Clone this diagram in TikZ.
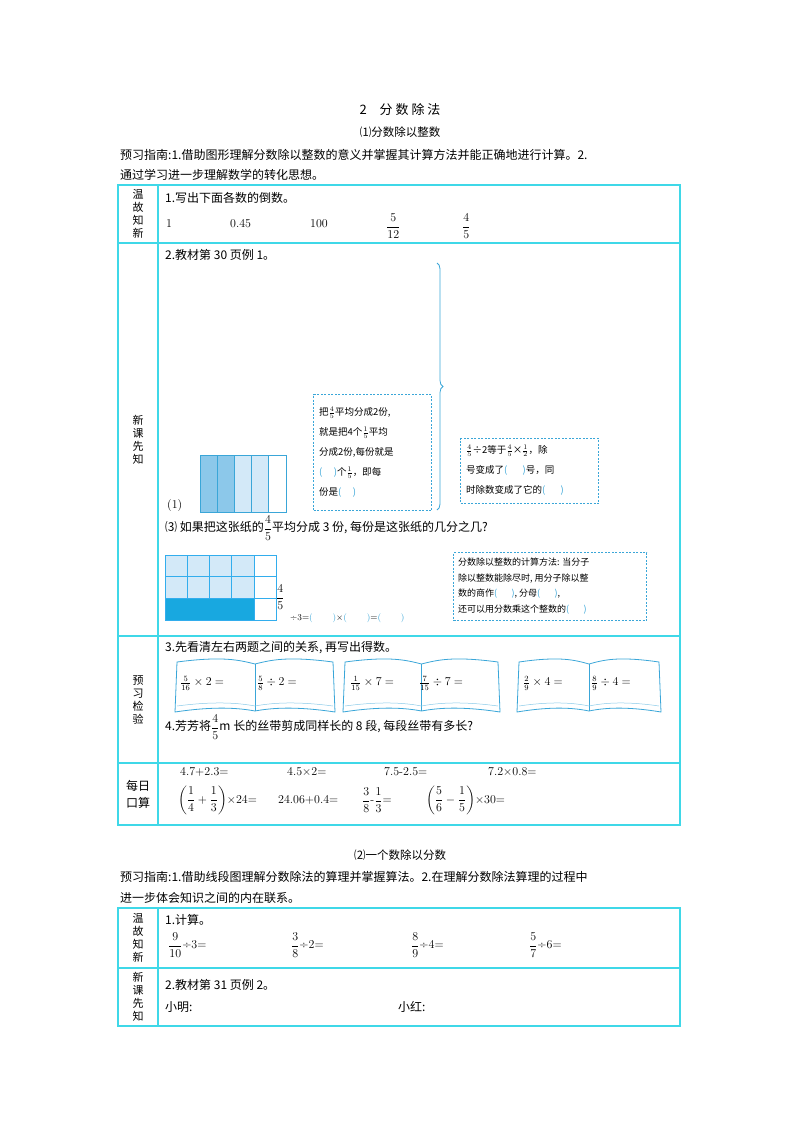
\documentclass[tikz,border=0pt]{standalone}
\usepackage{fontspec}
\usepackage{amsmath}
\newfontfamily\cjk{Noto Sans CJK SC}
\newcommand{\bp}[1][1.2em]{{\color{bblue}(\hspace*{#1})}}
\usetikzlibrary{decorations.pathreplacing}
\definecolor{tcyan}{HTML}{3FD8E8}
\definecolor{bblue}{HTML}{3AA6D8}
\definecolor{dblue}{HTML}{8CC8EA}
\definecolor{lblue}{HTML}{D3E9F8}
\definecolor{sblue}{HTML}{18A8E0}
\begin{document}
\begin{tikzpicture}[x=1pt,y=-1pt,
  txt/.style={anchor=west,inner sep=0pt,font=\fontsize{12}{14}\selectfont\cjk},
  num/.style={anchor=west,inner sep=0pt,font=\fontsize{12}{14}\selectfont},
  lab/.style={align=center,inner sep=0pt,font=\fontsize{11}{13}\selectfont\cjk},
  tline/.style={draw=tcyan,line width=1.2pt},
  dbox/.style={draw=bblue,dashed,line width=1pt,dash pattern=on 2pt off 1.5pt},
  small/.style={anchor=west,inner sep=0pt,align=left,font=\fontsize{9.5}{20}\selectfont\cjk}]
\useasboundingbox (0,0) rectangle (800,1132);
% titles
\node[inner sep=0pt,font=\fontsize{13}{15}\selectfont\cjk] (t1) at (400,110) {2\quad 分 数 除 法};
\node[inner sep=0pt,font=\fontsize{11.5}{14}\selectfont\cjk] (t2) at (400,132) {⑴分数除以整数};
\node[txt] (g1) at (120,155) {预习指南:1.借助图形理解分数除以整数的意义并掌握其计算方法并能正确地进行计算。2.};
\node[txt] (g2) at (120,175) {通过学习进一步理解数学的转化思想。};
% table 1
\draw[tline] (118,185) rectangle (680,825);
\foreach \y in {243,636,763} \draw[tline] (118,\y) -- (680,\y);
\draw[tline] (158,185) -- (158,825);
\node[lab] (l1) at (138,214) {温\\故\\知\\新};
\node[lab] (l2) at (138,440) {新\\课\\先\\知};
\node[lab] (l3) at (138,700) {预\\习\\检\\验};
\node[lab,font=\fontsize{12}{17}\selectfont\cjk] (l4) at (138,794) {每日\\口算};
% row 1
\node[txt] (r1) at (165,198) {1.写出下面各数的倒数。};
\node[num] (a1) at (166,224) {1};
\node[num] (a2) at (230,224) {0.45};
\node[num] (a3) at (310,224) {100};
\node[num,font=\fontsize{13}{15}\selectfont] (a4) at (386,226) {$\dfrac{5}{12}$};
\node[num,font=\fontsize{13}{15}\selectfont] (a5) at (462,226) {$\dfrac{4}{5}$};
% row 2
\node[txt] (r2) at (165,255) {2.教材第 30 页例 1。};
\draw[bblue,line width=0.8pt,decorate,decoration={brace,amplitude=6pt}] (437,263) -- (437,510);
\node[num] (p1) at (167,505) {(1)};
\fill[dblue] (200,455) rectangle (234.4,512);
\fill[lblue] (234.4,455) rectangle (268.8,512);
\draw[bblue,line width=0.8pt] (200,455) rectangle (286,512);
\foreach \i in {1,...,4} \draw[bblue,line width=0.8pt] (200+17.2*\i,455) -- (200+17.2*\i,512);
\node[dbox,minimum width=118,minimum height=116,anchor=north west] (b1) at (313,394) {};
\node[small] (b1t) at (319,452) {把$\frac{4}{5}$平均分成2份,\\就是把4个$\frac{1}{5}$平均\\分成2份,每份就是\\\bp 个$\frac{1}{5}$，即每\\份是\bp};
\node[dbox,minimum width=138,minimum height=65,anchor=north west] (b2) at (460,438) {};
\node[small] (b2t) at (466,470) {$\frac{4}{5}$÷2等于$\frac{4}{5}$×$\frac{1}{2}$，除\\号变成了\bp[1.6em]号，同\\时除数变成了它的\bp[1.6em]};
\node[txt] (r3) at (165,528) {⑶ 如果把这张纸的$\dfrac{4}{5}$平均分成 3 份, 每份是这张纸的几分之几?};
\fill[lblue] (165,555) rectangle (253.8,598.3);
\fill[sblue] (165,598.3) rectangle (253.8,620);
\draw[tcyan!80!blue,line width=0.6pt] (165,555) rectangle (276,620);
\foreach \i in {1,...,4} \draw[tcyan!80!blue,line width=0.6pt] (165+22.2*\i,555) -- (165+22.2*\i,598.3);
\draw[tcyan!80!blue,line width=0.6pt] (253.8,598.3) -- (253.8,620);
\foreach \j in {576.7,598.3} \draw[tcyan!80!blue,line width=0.6pt] (165,\j) -- (276,\j);
\node[num,font=\fontsize{12}{14}\selectfont] (f45) at (276,597) {$\dfrac{4}{5}$};
\node[num,font=\fontsize{9}{11}\selectfont] (eq) at (290,618) {÷3=\bp[2.2em]×\bp[2.2em]=\bp[2.2em]};
\node[dbox,minimum width=193,minimum height=68,anchor=north west] (b3) at (453,552) {};
\node[small,font=\fontsize{9}{15.5}\selectfont\cjk] (b3t) at (458,586) {分数除以整数的计算方法: 当分子\\除以整数能除尽时, 用分子除以整\\数的商作\bp[1.6em], 分母\bp[1.6em],\\还可以用分数乘这个整数的\bp[1.6em]};
% row 3
\node[txt] (r4) at (165,648) {3.先看清左右两题之间的关系, 再写出得数。};
\foreach \x/\w/\n in {175/160/k1,343/157/k2,517/144/k3}{
  \draw[bblue,line width=0.8pt] (\x+2,662) .. controls (\x+0.3*\w,656) and (\x+0.4*\w,660) .. (\x+0.5*\w,664)
     .. controls (\x+0.6*\w,660) and (\x+0.7*\w,656) .. (\x+\w-2,662) -- (\x+\w,712)
     .. controls (\x+0.75*\w,706) and (\x+0.6*\w,708) .. (\x+0.5*\w,711)
     .. controls (\x+0.4*\w,708) and (\x+0.25*\w,706) .. (\x,712) -- cycle;
  \draw[bblue,line width=0.6pt] (\x+0.5*\w,664) -- (\x+0.5*\w,711);
  \draw[bblue!60,line width=0.5pt] (\x+2,706) .. controls (\x+0.25*\w,701) and (\x+0.4*\w,703) .. (\x+0.5*\w,706) .. controls (\x+0.6*\w,703) and (\x+0.75*\w,701) .. (\x+\w-2,706);
}
\node[num] (e1) at (180,683) {$\frac{5}{16}\times2=$};
\node[num] (e2) at (257,683) {$\frac{5}{8}\div2=$};
\node[num] (e3) at (350,683) {$\frac{1}{15}\times7=$};
\node[num] (e4) at (419,683) {$\frac{7}{15}\div7=$};
\node[num] (e5) at (523,683) {$\frac{2}{9}\times4=$};
\node[num] (e6) at (591,683) {$\frac{8}{9}\div4=$};
\node[txt] (r5) at (165,727) {4.芳芳将$\dfrac{4}{5}$m 长的丝带剪成同样长的 8 段, 每段丝带有多长?};
% row 4
\node[num] (m1) at (180,772) {4.7+2.3=};
\node[num] (m2) at (287,772) {4.5×2=};
\node[num] (m3) at (384,772) {7.5-2.5=};
\node[num] (m4) at (488,772) {7.2×0.8=};
\node[num] (m5) at (178,800) {$\left(\dfrac{1}{4}+\dfrac{1}{3}\right)$×24=};
\node[num] (m6) at (278,800) {24.06+0.4=};
\node[num] (m7) at (362,800) {$\dfrac{3}{8}$-$\dfrac{1}{3}$=};
\node[num] (m8) at (426,800) {$\left(\dfrac{5}{6}-\dfrac{1}{5}\right)$×30=};
% section 2
\node[inner sep=0pt,font=\fontsize{11.5}{14}\selectfont\cjk] (t3) at (400,855) {⑵一个数除以分数};
\node[txt] (g3) at (120,877) {预习指南:1.借助线段图理解分数除法的算理并掌握算法。2.在理解分数除法算理的过程中};
\node[txt] (g4) at (120,898) {进一步体会知识之间的内在联系。};
\draw[tline] (118,908) rectangle (680,1026);
\draw[tline] (118,968) -- (680,968);
\draw[tline] (158,908) -- (158,1026);
\node[lab] (l5) at (138,938) {温\\故\\知\\新};
\node[lab] (l6) at (138,997) {新\\课\\先\\知};
\node[txt] (s1) at (165,920) {1.计算。};
\node[num] (c1) at (168,945) {$\dfrac{9}{10}$÷3=};
\node[num] (c2) at (291,945) {$\dfrac{3}{8}$÷2=};
\node[num] (c3) at (411,945) {$\dfrac{8}{9}$÷4=};
\node[num] (c4) at (529,945) {$\dfrac{5}{7}$÷6=};
\node[txt] (s2) at (165,985) {2.教材第 31 页例 2。};
\node[txt] (s3) at (165,1007) {小明:};
\node[txt] (s4) at (398,1007) {小红:};
\end{tikzpicture}
\end{document}
